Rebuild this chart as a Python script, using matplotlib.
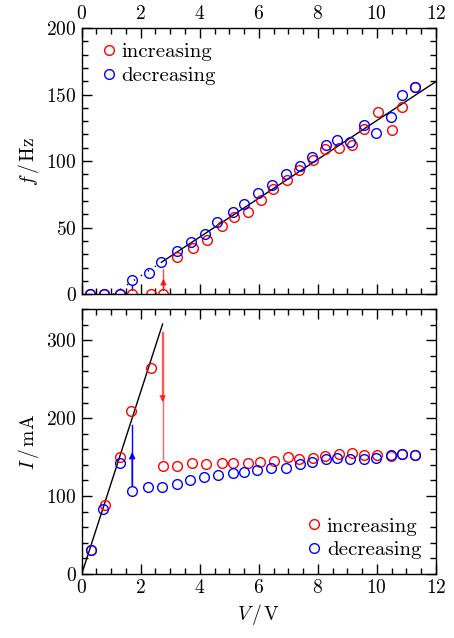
import matplotlib
matplotlib.use("Agg")
import matplotlib.pyplot as plt
import numpy as np
from matplotlib.ticker import MultipleLocator

plt.rcParams['font.family'] = ['cmr10', 'DejaVu Serif']
plt.rcParams['mathtext.fontset'] = 'cm'
plt.rcParams['axes.unicode_minus'] = False
plt.rcParams['axes.formatter.use_mathtext'] = True
plt.rcParams['font.size'] = 14

# frequency vs voltage
v_inc_f = [0.28, 0.76, 1.30, 1.72, 2.36, 2.77, 3.24, 3.78, 4.24, 4.77, 5.17, 5.65, 6.07,
           6.49, 6.97, 7.37, 7.83, 8.25, 8.72, 9.15, 9.57, 10.03, 10.50, 10.87, 11.30]
f_inc = [0, 0, 0, 0, 0, 0, 28, 35, 41, 51, 58, 62, 71,
         79, 86, 93, 101, 109, 110, 112, 124, 137, 123, 141, 156]
v_dec_f = [0.28, 0.76, 1.30, 1.72, 2.27, 2.70, 3.24, 3.69, 4.17, 4.60, 5.11, 5.51, 5.97,
           6.46, 6.93, 7.38, 7.80, 8.27, 8.64, 9.10, 9.57, 9.98, 10.48, 10.87, 11.30]
f_dec = [0, 0, 0, 10.5, 16, 24, 32.5, 39, 45.5, 54, 62, 68, 76,
         82, 90, 96, 103, 112, 116, 114, 127.5, 121, 133, 149.5, 156]

# current vs voltage
v_inc_i = [0.30, 0.79, 1.31, 1.68, 2.34, 2.74, 3.24, 3.75, 4.20, 4.75, 5.14, 5.65, 6.04,
           6.50, 6.98, 7.37, 7.83, 8.25, 8.72, 9.15, 9.58, 10.02, 10.49, 10.87, 11.30]
i_inc = [31, 89, 150, 209, 264, 139, 138, 142, 141, 143, 142, 142, 144,
         145, 150, 148, 149, 152, 154, 155, 153, 153, 151, 154, 153]
v_dec_i = [0.30, 0.73, 1.30, 1.71, 2.24, 2.71, 3.24, 3.67, 4.15, 4.61, 5.11, 5.50, 5.95,
           6.42, 6.93, 7.38, 7.82, 8.27, 8.64, 9.10, 9.57, 9.98, 10.47, 10.87, 11.30]
i_dec = [31, 84, 143, 106, 111, 112, 115, 121, 125, 127, 129, 131, 134,
         136, 136, 141, 144, 147, 149, 147, 147, 149, 153, 154, 153]

# fitted lines
f_slope, f_icpt = 14.6, -15.5
i_slope = 117.0
i_vmax = 2.74

# jump arrows: (V, start, end)
f_jump_up = (2.77, 3, 19)
f_jump_down = (1.72, 7, 3)
i_jump_down = (2.74, 310, 147)
i_jump_up = (1.71, 114, 191)

red = '#ff0000'
blue = '#0000ff'

fig = plt.figure(figsize=(4.54, 6.38), dpi=100)
ax1 = fig.add_axes([0.18, 0.539, 0.78, 0.417])
ax2 = fig.add_axes([0.18, 0.1003, 0.78, 0.4154])

mk = dict(ls='none', marker='o', ms=7, mfc='none', mew=1.0)


def jump(ax, arr, color, alpha=1.0, head=True):
    x, y0, y1 = arr
    ax.plot([x, x], [y0, y1], color=color, lw=1, alpha=alpha)
    if not head:
        return
    ym = y0 + 0.55 * (y1 - y0)
    ax.annotate('', xy=(x, ym), xytext=(x, y0),
                arrowprops=dict(arrowstyle='-|>', color=color, lw=1, alpha=alpha,
                                mutation_scale=9, shrinkA=0, shrinkB=0))


# top panel
x0 = -f_icpt / f_slope
xd = np.array([x0, v_dec_f[5]])
ax1.plot(xd, f_slope * xd + f_icpt, color='k', lw=1, ls=(0, (1, 5)))
xs = np.array([v_dec_f[5], 12])
ax1.plot(xs, f_slope * xs + f_icpt, color='k', lw=1)
jump(ax1, f_jump_up, red, 0.7)
jump(ax1, f_jump_down, blue, head=False)
ax1.plot(v_inc_f, f_inc, color=red, label='increasing', **mk)
ax1.plot(v_dec_f, f_dec, color=blue, label='decreasing', **mk)
ax1.set_xlim(0, 12)
ax1.set_ylim(0, 200)
ax1.yaxis.set_major_locator(MultipleLocator(50))
ax1.yaxis.set_minor_locator(MultipleLocator(10))
ax1.set_ylabel(r'$f\,/\,\mathrm{Hz}$')
ax1.tick_params(labelbottom=False, labeltop=True)
ax1.legend(loc='upper left', frameon=False, handletextpad=0.0, handlelength=1.2,
           borderaxespad=0.3, labelspacing=0.25, fontsize=15)

# bottom panel
xl = np.array([0, i_vmax])
ax2.plot(xl, i_slope * xl, color='k', lw=1)
jump(ax2, i_jump_down, red, 0.6)
jump(ax2, i_jump_up, blue)
ax2.plot(v_inc_i, i_inc, color=red, label='increasing', **mk)
ax2.plot(v_dec_i, i_dec, color=blue, label='decreasing', **mk)
ax2.set_xlim(0, 12)
ax2.set_ylim(0, 340)
ax2.yaxis.set_major_locator(MultipleLocator(100))
ax2.yaxis.set_minor_locator(MultipleLocator(20))
ax2.set_ylabel(r'$I\,/\,\mathrm{mA}$')
ax2.set_xlabel(r'$V\,/\,\mathrm{V}$')
ax2.legend(loc='lower right', frameon=False, handletextpad=0.0, handlelength=1.2,
           borderaxespad=0.3, labelspacing=0.25, fontsize=15)

for ax in (ax1, ax2):
    ax.xaxis.set_major_locator(MultipleLocator(2))
    ax.xaxis.set_minor_locator(MultipleLocator(0.5))
    ax.tick_params(which='both', direction='in', top=True, right=True, width=1)
    ax.tick_params(which='major', length=7)
    ax.tick_params(which='minor', length=4)
    for s in ax.spines.values():
        s.set_linewidth(1)

fig.savefig('out.png', dpi=100)
